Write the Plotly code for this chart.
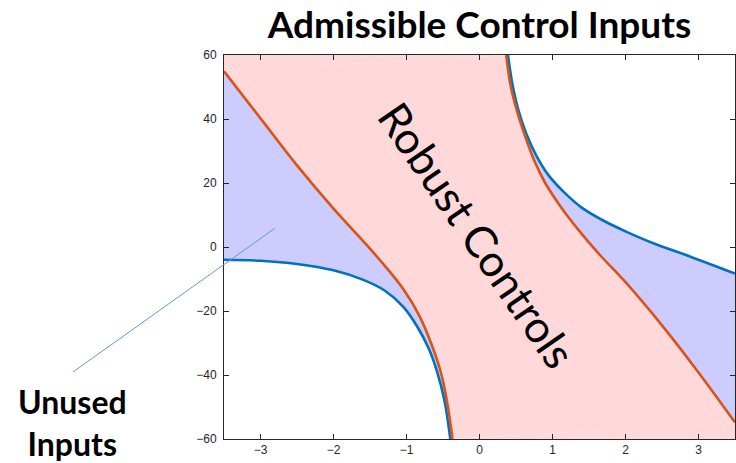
import plotly.graph_objects as go

# ---- data ----
X_RANGE = [-3.5, 3.5]
Y_RANGE = [-60, 60]
x_ticks = [-3, -2, -1, 0, 1, 2, 3]
y_ticks = [-60, -40, -20, 0, 20, 40, 60]

# left boundary of the robust (orange) region
orange_left_x = [-3.5, -3.0, -2.5, -2.0, -1.6, -1.3, -1.04, -0.82, -0.64, -0.52, -0.44, -0.37]
orange_left_y = [54.9, 40.2, 25.5, 12.0, 2.0, -5.8, -13.3, -21.7, -31.5, -40.0, -49.0, -60.0]
# right boundary of the robust (orange) region
orange_right_x = [0.365, 0.43, 0.52, 0.62, 0.75, 0.9, 1.1, 1.35, 1.65, 2.0, 2.5, 3.0, 3.5]
orange_right_y = [60.0, 50.0, 42.0, 35.0, 27.0, 20.0, 13.0, 5.5, -2.5, -11.0, -24.5, -39.2, -54.8]
# admissible (blue) boundaries
blue_left_x = [-3.5, -3.0, -2.5, -2.0, -1.6, -1.3, -1.04, -0.85, -0.7, -0.58, -0.48, -0.4]
blue_left_y = [-4.0, -4.3, -5.3, -7.3, -10.2, -13.6, -18.8, -25.0, -31.5, -39.0, -48.0, -60.0]
blue_right_x = [0.39, 0.45, 0.53, 0.64, 0.78, 0.95, 1.15, 1.4, 1.7, 2.0, 2.4, 2.9, 3.5]
blue_right_y = [60.0, 51.0, 43.0, 35.5, 28.5, 22.3, 17.3, 12.3, 8.2, 4.9, 1.0, -3.1, -8.3]

ORANGE = "#D95319"
BLUE = "#0072BD"
PINK_FILL = "rgb(255,217,217)"
BLUE_FILL = "rgb(204,204,255)"
AXIS = "#262626"

fig = go.Figure()

def ghost(x, y, fill=None, fillcolor=None):
    return go.Scatter(x=x, y=y, mode="lines", line=dict(width=0, shape="spline"),
                      fill=fill, fillcolor=fillcolor, hoverinfo="skip", showlegend=False)

# blue "unused" fills
fig.add_trace(ghost(blue_left_x, blue_left_y))
fig.add_trace(ghost(orange_left_x, orange_left_y, "tonexty", BLUE_FILL))
fig.add_trace(ghost(blue_right_x, blue_right_y))
fig.add_trace(ghost(orange_right_x, orange_right_y, "tonexty", BLUE_FILL))
# pink robust region
fig.add_trace(ghost(orange_left_x, orange_left_y))
fig.add_trace(ghost(orange_right_x, orange_right_y, "tonexty", PINK_FILL))
# corner slivers of the pink region
fig.add_trace(go.Scatter(
    x=[orange_left_x[0], X_RANGE[0], orange_right_x[0]],
    y=[orange_left_y[0], Y_RANGE[1], orange_right_y[0]],
    mode="lines", line=dict(width=0), fill="toself", fillcolor=PINK_FILL,
    hoverinfo="skip", showlegend=False))
fig.add_trace(go.Scatter(
    x=[orange_right_x[-1], X_RANGE[1], orange_left_x[-1]],
    y=[orange_right_y[-1], Y_RANGE[0], orange_left_y[-1]],
    mode="lines", line=dict(width=0), fill="toself", fillcolor=PINK_FILL,
    hoverinfo="skip", showlegend=False))

# curves
for xs, ys, c in [(blue_left_x, blue_left_y, BLUE), (blue_right_x, blue_right_y, BLUE),
                  (orange_left_x, orange_left_y, ORANGE), (orange_right_x, orange_right_y, ORANGE)]:
    fig.add_trace(go.Scatter(x=xs, y=ys, mode="lines",
                             line=dict(color=c, width=2.6, shape="spline"),
                             hoverinfo="skip", showlegend=False))

axis_common = dict(showgrid=False, zeroline=False, showline=True, linecolor=AXIS, linewidth=1,
                   mirror="ticks", ticks="inside", ticklen=5, tickwidth=1, tickcolor=AXIS,
                   tickfont=dict(family="Liberation Sans, Arial, sans-serif", size=12, color=AXIS))

fig.update_xaxes(range=X_RANGE, tickvals=x_ticks, **axis_common)
fig.update_yaxes(range=Y_RANGE, tickvals=y_ticks, ticklabelstandoff=4, **axis_common)

fig.add_annotation(text="Robust Controls", x=-0.02, y=3.9, xref="x", yref="y",
                   showarrow=False, textangle=55.5,
                   font=dict(family="Lato, Carlito, sans-serif", size=44, color="black"))

fig.add_annotation(text="Unused<br>Inputs", x=-0.2955, y=0.042, xref="paper", yref="paper",
                   xanchor="center", yanchor="middle", showarrow=False,
                   font=dict(family="Lato, Carlito, sans-serif", size=32, color="black",
                             weight="bold"))

fig.add_shape(type="line", xref="paper", yref="paper",
              x0=-0.2955, y0=0.1745, x1=0.0998, y1=0.549,
              line=dict(color="#5B9BD5", width=1))

fig.update_layout(
    width=736, height=463,
    margin=dict(l=224, r=1, t=55, b=24),
    paper_bgcolor="white", plot_bgcolor="white",
    title=dict(text="<b>Admissible Control Inputs</b>", x=0.5, xref="paper",
               y=1 - 25 / 463, yref="container", yanchor="middle", xanchor="center",
               font=dict(family="Lato, Carlito, sans-serif", size=37, color="black")),
)

fig.write_html("out.html", config={"displayModeBar": False},
               post_script="document.body.style.margin='0';document.body.style.padding='0';")
